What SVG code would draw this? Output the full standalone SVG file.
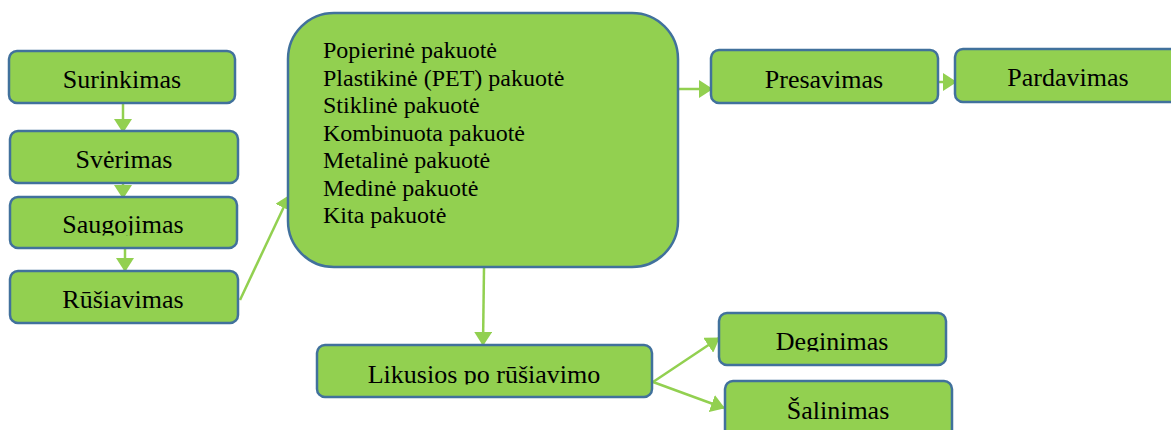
<svg xmlns="http://www.w3.org/2000/svg" width="1171" height="430" viewBox="0 0 1171 430">
<style>
.box{fill:#92D050;stroke:#41719C;stroke-width:2.5}
.t{font-family:"Liberation Serif","Times New Roman",serif;font-size:26px;fill:#000;text-anchor:middle}
.l{font-family:"Liberation Serif","Times New Roman",serif;font-size:24px;fill:#000}
.c{stroke:#92D050;stroke-width:2.5;fill:none}
</style>
<defs>
<marker id="ah" markerUnits="userSpaceOnUse" markerWidth="14" markerHeight="18" refX="13" refY="9" orient="auto" viewBox="0 0 14 18">
<path d="M0,0 L14,9 L0,18 Z" fill="#92D050"/>
</marker>
<clipPath id="cSau"><rect x="0" y="190" width="300" height="45.5"/></clipPath>
<clipPath id="cLik"><rect x="300" y="340" width="360" height="44.5"/></clipPath>
<clipPath id="cDeg"><rect x="700" y="300" width="260" height="51.5"/></clipPath>
</defs>
<rect width="1171" height="430" fill="#fff"/>
<g id="connectors">
<line class="c" x1="123" y1="104" x2="123" y2="132" marker-end="url(#ah)"/>
<line class="c" x1="123" y1="184" x2="123" y2="198" marker-end="url(#ah)"/>
<line class="c" x1="125" y1="249" x2="125" y2="271" marker-end="url(#ah)"/>
<line class="c" x1="240" y1="300" x2="289" y2="196" marker-end="url(#ah)"/>
<line class="c" x1="679" y1="89" x2="712" y2="89" marker-end="url(#ah)"/>
<line class="c" x1="939" y1="82" x2="956" y2="82" marker-end="url(#ah)"/>
<line class="c" x1="484" y1="268" x2="483" y2="345" marker-end="url(#ah)"/>
<line class="c" x1="653" y1="382" x2="719" y2="338" marker-end="url(#ah)"/>
<line class="c" x1="653" y1="382" x2="724" y2="408" marker-end="url(#ah)"/>
</g>
<g id="surinkimas"><rect class="box" x="9" y="51" width="226" height="52" rx="8"/><text class="t" x="122" y="88">Surinkimas</text></g>
<g id="sverimas"><rect class="box" x="10" y="131" width="228" height="52" rx="8"/><text class="t" x="124" y="168">Svėrimas</text></g>
<g id="saugojimas"><rect class="box" x="10" y="197" width="227" height="51" rx="8"/><text class="t" x="123" y="233" clip-path="url(#cSau)">Saugojimas</text></g>
<g id="rusiavimas"><rect class="box" x="10" y="271" width="228" height="52" rx="8"/><text class="t" x="123" y="308">Rūšiavimas</text></g>
<g id="pakuote"><rect class="box" x="288" y="13" width="390" height="254" rx="46"/>
<text class="l" x="323" y="58">Popierinė pakuotė</text>
<text class="l" x="323" y="86">Plastikinė (PET) pakuotė</text>
<text class="l" x="323" y="113">Stiklinė pakuotė</text>
<text class="l" x="323" y="141">Kombinuota pakuotė</text>
<text class="l" x="323" y="168">Metalinė pakuotė</text>
<text class="l" x="323" y="196">Medinė pakuotė</text>
<text class="l" x="323" y="223">Kita pakuotė</text>
</g>
<g id="presavimas"><rect class="box" x="711" y="50" width="227" height="53" rx="8"/><text class="t" x="824" y="88">Presavimas</text></g>
<g id="pardavimas"><rect class="box" x="955" y="49" width="227" height="53" rx="8"/><text class="t" x="1068" y="86">Pardavimas</text></g>
<g id="likusios"><rect class="box" x="317" y="345" width="335" height="52" rx="8"/><text class="t" x="484" y="383" clip-path="url(#cLik)">Likusios po rūšiavimo</text></g>
<g id="deginimas"><rect class="box" x="719" y="313" width="227" height="52" rx="8"/><text class="t" x="832" y="350" clip-path="url(#cDeg)">Deginimas</text></g>
<g id="salinimas"><rect class="box" x="725" y="381" width="227" height="60" rx="8"/><text class="t" x="838" y="419">Šalinimas</text></g>
</svg>
